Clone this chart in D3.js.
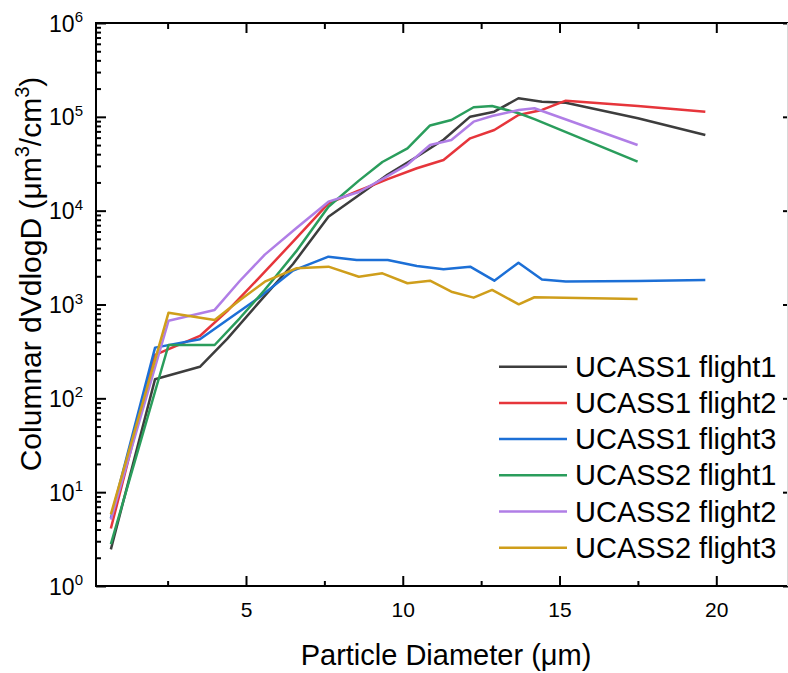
<!DOCTYPE html>
<html><head><meta charset="utf-8">
<script src="https://cdn.jsdelivr.net/npm/d3@7"></script>
<style>
body{margin:0;background:#fff}
svg{display:block;font-family:Arial,"Liberation Sans",sans-serif}
</style>
</head><body><svg id="c" width="788" height="673"></svg>
<script>
// ---- data ----
const ucass1Diam = [0.69, 2.1, 3.53, 4.4, 5.4, 6.5, 7.63, 8.53, 9.52, 10.45, 11.3, 12.15, 12.92, 13.69, 14.44, 15.2, 17.5, 19.65];
const ucass2Diam = [0.69, 2.53, 4.0, 4.8, 5.6, 6.6, 7.63, 8.6, 9.35, 10.15, 10.87, 11.55, 12.26, 12.85, 13.7, 14.2, 17.49];

const ucass1Flight1 = [2.46, 160, 217, 430, 1040, 2700, 8600, 14100, 24300, 37500, 57000, 100400, 113500, 157700, 145000, 141600, 96600, 64100];
const ucass1Flight2 = [4.1, 290, 462, 850, 1900, 4670, 11970, 16000, 21700, 28300, 34700, 59000, 72400, 104700, 118400, 148600, 130600, 113500];
const ucass1Flight3 = [5.27, 347, 426, 684, 1175, 2300, 3233, 2982, 2982, 2573, 2373, 2530, 1795, 2790, 1850, 1760, 1780, 1824];
const ucass2Flight1 = [2.8, 370, 370, 713, 1436, 3680, 11000, 20900, 33000, 46200, 80900, 92500, 126500, 130600, 109100, 94400, 33260];
const ucass2Flight2 = [5.1, 671, 875, 1780, 3400, 6490, 12470, 15800, 21700, 31000, 50100, 56600, 88800, 102000, 118000, 123400, 50100];
const ucass2Flight3 = [5.8, 818, 684, 1107, 1750, 2432, 2530, 1977, 2150, 1683, 1795, 1370, 1183, 1430, 1005, 1195, 1145];

const seriesNames = ["UCASS1 flight1", "UCASS1 flight2", "UCASS1 flight3", "UCASS2 flight1", "UCASS2 flight2", "UCASS2 flight3"];
const seriesColors = ["#3d3d3d", "#e6353b", "#1c6fd6", "#2a9d5c", "#b07ee6", "#cf9e1b"];

const xMajorTicks = [5, 10, 15, 20];
const xMinorTicks = [2.5, 7.5, 12.5, 17.5];
const yMajorTicks = [1, 10, 100, 1000, 10000, 100000, 1000000];
const yExponents = ["0", "1", "2", "3", "4", "5", "6"];

// ---- build ----
const series = [
  {name: seriesNames[0], xs: ucass1Diam, ys: ucass1Flight1, color: seriesColors[0]},
  {name: seriesNames[1], xs: ucass1Diam, ys: ucass1Flight2, color: seriesColors[1]},
  {name: seriesNames[2], xs: ucass1Diam, ys: ucass1Flight3, color: seriesColors[2]},
  {name: seriesNames[3], xs: ucass2Diam, ys: ucass2Flight1, color: seriesColors[3]},
  {name: seriesNames[4], xs: ucass2Diam, ys: ucass2Flight2, color: seriesColors[4]},
  {name: seriesNames[5], xs: ucass2Diam, ys: ucass2Flight3, color: seriesColors[5]},
];

const L = 96, R = 788, T = 23, B = 586;
const x = d3.scaleLinear().domain([0.216, 22.287]).range([L, R]);
const y = d3.scaleLog().domain([1, 1e6]).range([B, T]);

const svg = d3.select("#c");

// minor y ticks
const yMinor = [];
for (let e = 0; e < 6; e++) for (let m = 2; m <= 9; m++) yMinor.push(m * Math.pow(10, e));

function styleAxis(g) {
  g.select(".domain").remove();
  g.selectAll(".tick line").attr("stroke", "#000").attr("stroke-width", 2);
}

// bottom axis
svg.append("g").attr("transform", `translate(0,${B})`)
  .call(d3.axisBottom(x).tickValues(xMajorTicks).tickSize(-10).tickPadding(16))
  .call(styleAxis)
  .call(g => g.selectAll(".tick text").attr("font-size", 21).attr("fill", "#000").attr("font-family", "Arial, 'Liberation Sans', sans-serif"));
svg.append("g").attr("transform", `translate(0,${B})`)
  .call(d3.axisBottom(x).tickValues(xMinorTicks).tickSize(-5).tickFormat(""))
  .call(styleAxis);
// top axis
svg.append("g").attr("transform", `translate(0,${T})`)
  .call(d3.axisTop(x).tickValues(xMajorTicks).tickSize(-10).tickFormat(""))
  .call(styleAxis);
svg.append("g").attr("transform", `translate(0,${T})`)
  .call(d3.axisTop(x).tickValues(xMinorTicks).tickSize(-6).tickFormat(""))
  .call(styleAxis);
// left axis
svg.append("g").attr("transform", `translate(${L},0)`)
  .call(d3.axisLeft(y).tickValues(yMajorTicks).tickSize(-10).tickFormat(""))
  .call(styleAxis);
svg.append("g").attr("transform", `translate(${L},0)`)
  .call(d3.axisLeft(y).tickValues(yMinor).tickSize(-5).tickFormat(""))
  .call(styleAxis);
// right axis ticks
svg.append("g").attr("transform", `translate(${R},0)`)
  .call(d3.axisRight(y).tickValues(yMajorTicks).tickSize(-5).tickFormat(""))
  .call(styleAxis);

// y tick labels with superscripts
const yl = svg.append("g");
yMajorTicks.forEach((v, i) => {
  const t = yl.append("text").attr("x", 83).attr("y", y(v) + 8.5)
    .attr("text-anchor", "end").attr("font-size", 23).attr("fill", "#000");
  t.append("tspan").text("10");
  t.append("tspan").attr("font-size", 15).attr("dy", -9.5).text(yExponents[i]);
});

// frame
svg.append("path")
  .attr("d", `M${R+1},${T} L${L},${T} L${L},${B} L${R+1},${B}`)
  .attr("fill", "none").attr("stroke", "#000").attr("stroke-width", 2);
svg.append("line").attr("x1", R - 0.5).attr("x2", R - 0.5).attr("y1", T).attr("y2", B)
  .attr("stroke", "#d8d8d8").attr("stroke-width", 1);

// lines
const line = d3.line().x(d => x(d[0])).y(d => y(d[1]));
svg.append("g").selectAll("path").data(series).join("path")
  .attr("d", s => line(s.xs.map((xv, i) => [xv, s.ys[i]])))
  .attr("fill", "none").attr("stroke", s => s.color).attr("stroke-width", 2.5)
  .attr("stroke-linejoin", "round");

// legend
const lg = svg.append("g");
const legY = d3.scalePoint().domain(seriesNames).range([366.7, 547.7]);
series.forEach(s => {
  const cy = legY(s.name);
  lg.append("line").attr("x1", 499).attr("x2", 567).attr("y1", cy).attr("y2", cy)
    .attr("stroke", s.color).attr("stroke-width", 2.5);
  lg.append("text").attr("x", 575).attr("y", cy + 10).attr("font-size", 29).attr("fill", "#000").text(s.name);
});

// axis titles
svg.append("text").attr("x", 446).attr("y", 665).attr("text-anchor", "middle")
  .attr("font-size", 29).attr("fill", "#000").text("Particle Diameter (μm)");

const yt = svg.append("text").attr("transform", "translate(41,274) rotate(-90)")
  .attr("text-anchor", "middle").attr("font-size", 30).attr("fill", "#000");
yt.append("tspan").text("Columnar dVdlogD (μm");
yt.append("tspan").attr("font-size", 20).attr("dy", -12).text("3");
yt.append("tspan").attr("dy", 12).text("/cm");
yt.append("tspan").attr("font-size", 20).attr("dy", -12).text("3");
yt.append("tspan").attr("dy", 12).text(")");
</script>
</body></html>
